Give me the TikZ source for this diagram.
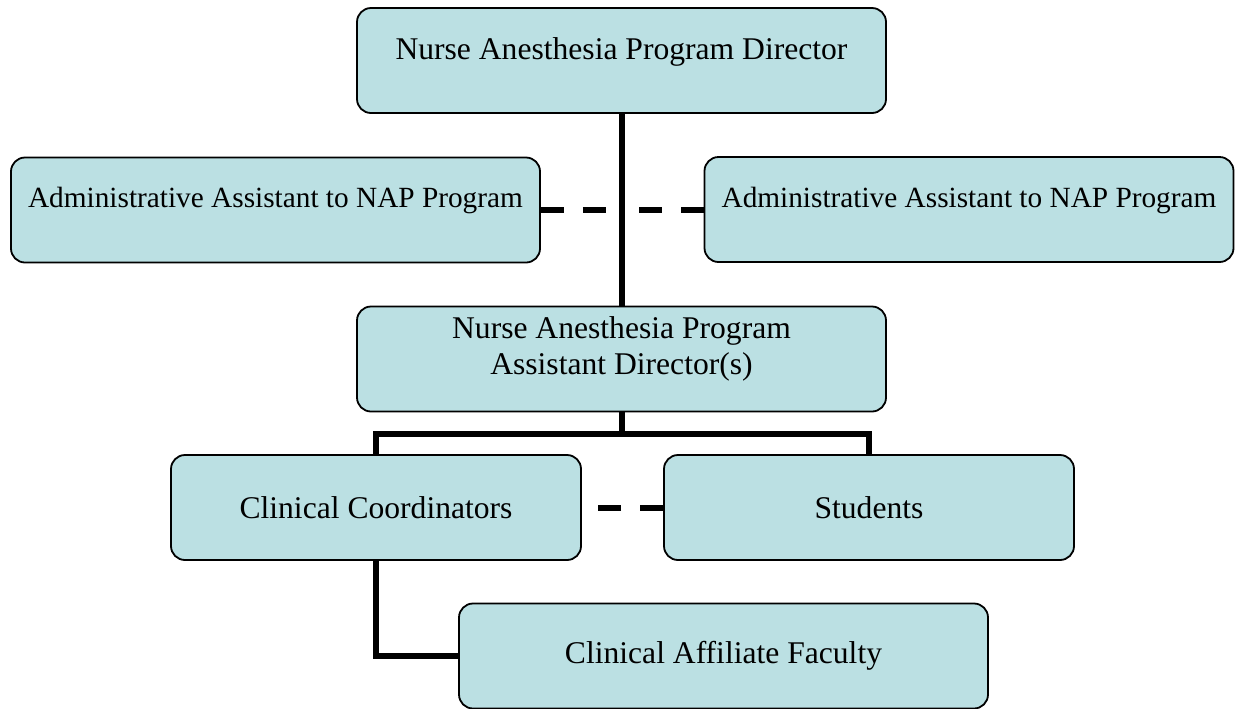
\documentclass[tikz,border=0pt]{standalone}
\usepackage{fontspec}
\setmainfont{Liberation Serif}
\usepackage{tikz}
\definecolor{boxfill}{RGB}{187,224,227}
\tikzset{
  orgbox/.style    = {shape=rectangle, rounded corners=7pt,
                      draw, line width=0.9pt, fill=boxfill,
                      align=center, inner sep=0pt, minimum height=52.5pt,
                      font=\fontsize{15.8}{18}\selectfont},
  widebox/.style   = {orgbox, minimum width=264.5pt},
  narrowbox/.style = {orgbox, minimum width=205pt},
  smalltext/.style = {font=\fontsize{14.65}{17}\selectfont},
  raised/.style    = {text height=0.66em, text depth=#1},
  link/.style      = {line width=3pt},
  dashlink/.style  = {link, dash pattern=on 11.5pt off 9.5pt}
}

\begin{document}
\begin{tikzpicture}[x=0.5pt, y=-0.5pt]
  \useasboundingbox (0,0) rectangle (1235,708);

  % boxes
  \node [widebox, raised=8pt] (director) at (621.5,60.5)
        {Nurse Anesthesia Program Director};
  \node [widebox, smalltext, raised=9pt] (assistL) at (275.5,210)
        {Administrative Assistant to NAP Program};
  \node [widebox, smalltext, raised=9pt] (assistR) at (969,209.5)
        {Administrative Assistant to NAP Program};
  \node [widebox, text depth=13pt] (assocdir) at (621.5,359)
        {Nurse Anesthesia Program\\Assistant Director(s)};
  \node [narrowbox] (coord) at (376,507.5) {Clinical Coordinators};
  \node [narrowbox] (students) at (869,507.5) {Students};
  \node [widebox] (faculty) at (723.5,656) {Clinical Affiliate Faculty};

  % connectors
  \draw [link] (director) -- (assocdir);
  \draw [dashlink] (assistL.east) -- (assistL.east -| director.south);
  \draw [dashlink] (assistR.west) -- (assistR.west -| director.south);
  \draw [link] (assocdir.south) -- ++(0,22) coordinate (bus);
  \draw [link] (coord.north) |- (bus) -| (students.north);
  \draw [dashlink] (students.west) -- (coord.east);
  \draw [link] (coord.south) |- (faculty.west);
\end{tikzpicture}
\end{document}
